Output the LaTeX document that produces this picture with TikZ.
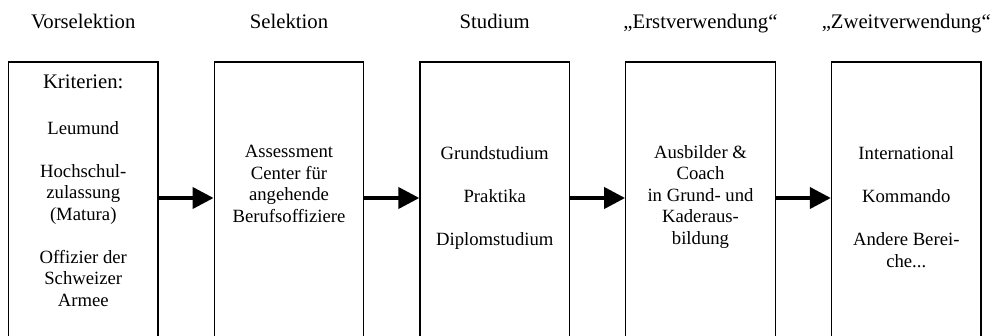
\documentclass[tikz,border=0pt]{standalone}
\usepackage{fontspec}
\setmainfont{Liberation Serif}
\usetikzlibrary{arrows.meta}

\begin{document}
\begin{tikzpicture}[x=1pt, y=1pt,
    phasebox/.style={draw, line width=1.3pt, minimum width=149.5pt, minimum height=300pt, inner sep=0pt},
    phasetitle/.style={anchor=base, inner sep=0pt, font=\fontsize{20.7}{24}\selectfont},
    phasetext/.style={anchor=base, inner sep=0pt, align=center, font=\fontsize{18.7}{21.5}\selectfont},
    flow/.style={line width=4pt, -{Triangle[length=21pt, width=21pt]}}]
    \useasboundingbox (0,0) rectangle (996,-336);

    % the five phases
    \node[phasebox] (vor) at (83.25,-212) {};
    \node[phasebox] (sel) at (289,-212) {};
    \node[phasebox] (stud) at (494.75,-212) {};
    \node[phasebox] (erst) at (700.5,-212) {};
    \node[phasebox] (zweit) at (906.25,-212) {};

    % headings
    \node[phasetitle] (tvor) at ([yshift=33pt]vor.north) {Vorselektion};
    \node[phasetitle] (tsel) at ([yshift=33pt]sel.north) {Selektion};
    \node[phasetitle] (tstud) at ([yshift=33pt]stud.north) {Studium};
    \node[phasetitle] (terst) at ([yshift=33pt]erst.north) {„Erstverwendung“};
    \node[phasetitle] (tzweit) at ([yshift=33pt]zweit.north) {„Zweitverwendung“};

    % contents (base = last line)
    \node[phasetext] (cvor) at ([yshift=-245pt]vor.north) {
        {\fontsize{20.7}{24}\selectfont Kriterien:}\\[24.5pt]
        Leumund\\[21.5pt]
        Hochschul-\\zulassung\\(Matura)\\[21.5pt]
        Offizier der\\Schweizer\\Armee
    };
    \node[phasetext] (csel) at ([yshift=-161pt]sel.north) {
        Assessment\\Center für\\angehende\\Berufsoffiziere
    };
    \node[phasetext] (cstud) at ([yshift=-184pt]stud.north) {
        Grundstudium\\[21.5pt]
        Praktika\\[21.5pt]
        Diplomstudium
    };
    \node[phasetext] (cerst) at ([yshift=-183pt]erst.north) {
        Ausbilder \&\\Coach\\in Grund- und\\Kaderaus-\\bildung
    };
    \node[phasetext] (czweit) at ([yshift=-206pt]zweit.north) {
        International\\[21.5pt]
        Kommando\\[21.5pt]
        Andere Berei-\\che...
    };

    % flow between phases
    \draw[flow] ([yshift=14pt]vor.east) -- ([yshift=14pt]sel.west);
    \draw[flow] ([yshift=14pt]sel.east) -- ([yshift=14pt]stud.west);
    \draw[flow] ([yshift=14pt]stud.east) -- ([yshift=14pt]erst.west);
    \draw[flow] ([yshift=14pt]erst.east) -- ([yshift=14pt]zweit.west);
\end{tikzpicture}
\end{document}
